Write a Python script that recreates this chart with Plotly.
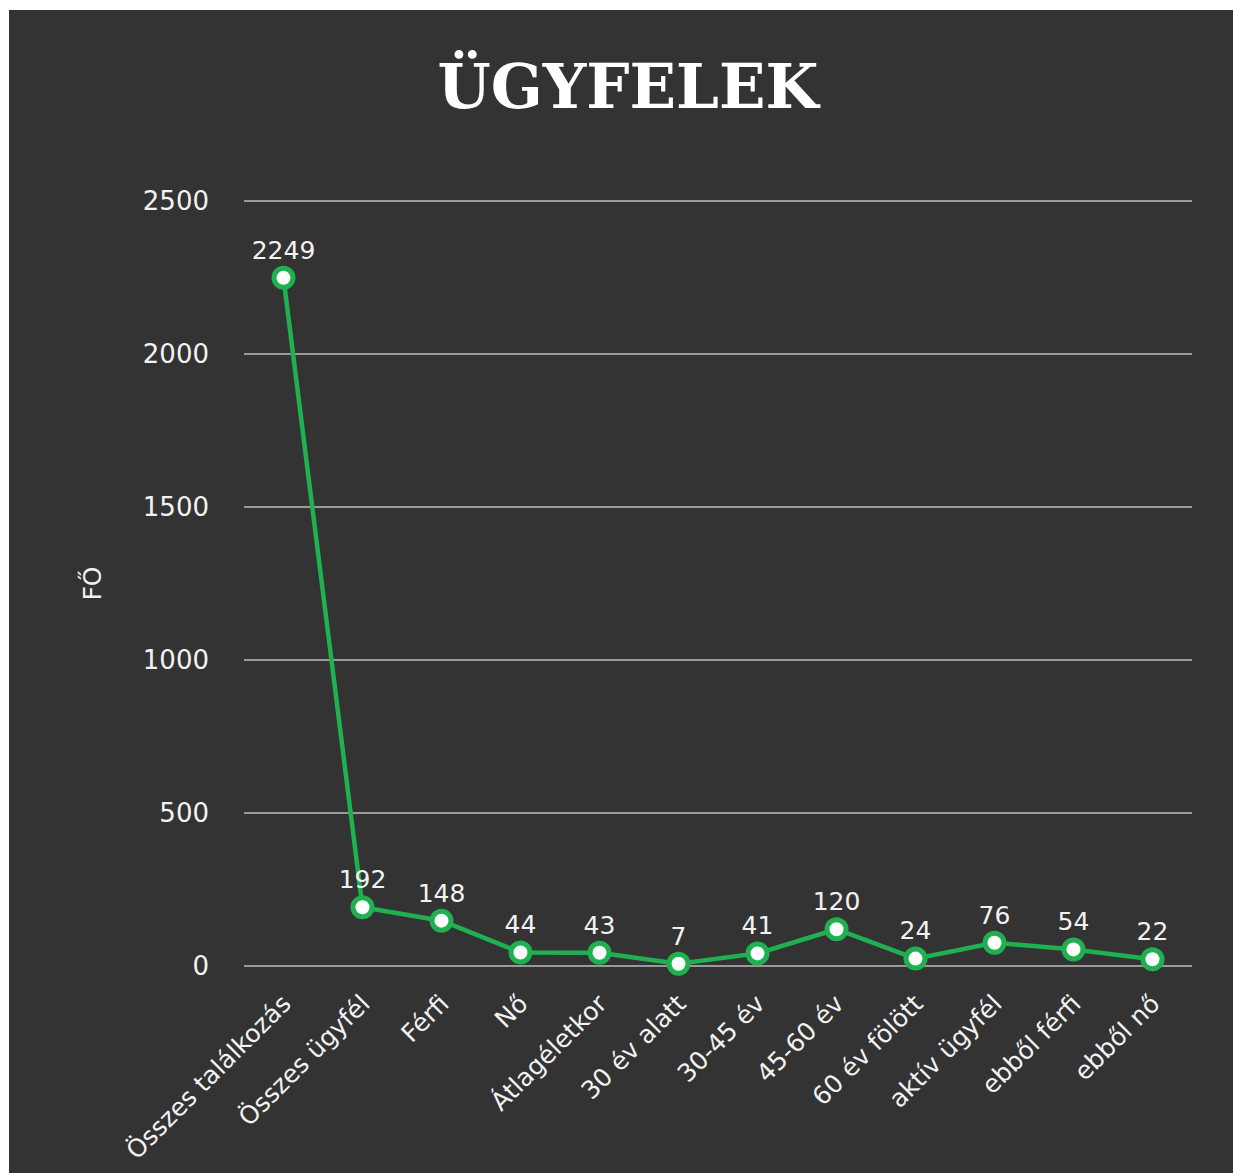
import plotly.graph_objects as go

categories = ["Összes találkozás", "Összes ügyfél", "Férfi", "Nő", "Átlagéletkor",
              "30 év alatt", "30-45 év", "45-60 év", "60 év fölött", "aktív ügyfél",
              "ebből férfi", "ebből nő"]
values = [2249, 192, 148, 44, 43, 7, 41, 120, 24, 76, 54, 22]
y_ticks = [0, 500, 1000, 1500, 2000, 2500]

W, H = 1233, 1173
L, R, T, B = 244, 41, 198, 204
pw, ph = W - L - R, H - T - B

green = "#1fb150"
font_main = "DejaVu Sans"

fig = go.Figure()
fig.add_trace(go.Scatter(
    x=categories, y=values,
    mode="lines+markers+text",
    text=[str(v) for v in values],
    textposition="top center",
    textfont=dict(family=font_main, size=25, color="#f2f2f2"),
    line=dict(color=green, width=4.5),
    marker=dict(size=19, color="white", line=dict(color=green, width=5)),
    cliponaxis=False,
    hoverinfo="x+y",
))

fig.add_shape(type="rect", xref="paper", yref="paper",
              x0=(9 - L) / pw, x1=(W - L) / pw + 0.01,
              y0=-(H - (T + ph)) / ph - 0.01, y1=(T + ph - 10) / ph,
              fillcolor="#333333", line=dict(width=0), layer="below")

fig.update_layout(
    width=W, height=H,
    margin=dict(l=L, r=R, t=T, b=B, autoexpand=False),
    paper_bgcolor="white",
    plot_bgcolor="rgba(0,0,0,0)",
    showlegend=False,
    title=dict(text="ÜGYFELEK", x=628 / W, xanchor="center", y=1 - 87 / H, yanchor="middle",
               xref="container", yref="container",
               font=dict(family="DejaVu Serif", size=61, color="white", weight="bold")),
    xaxis=dict(
        type="category",
        range=[-0.5, len(categories) - 0.5],
        tickangle=-45,
        tickfont=dict(family=font_main, size=25, color="#f2f2f2"),
        showgrid=False, zeroline=False, showline=False,
        ticks="", ticklabelstandoff=14, automargin=False,
    ),
    yaxis=dict(
        range=[-10, 2510],
        tickvals=y_ticks,
        tickfont=dict(family=font_main, size=26, color="#f2f2f2"),
        showgrid=True, gridcolor="#9a9a9a", gridwidth=1.5,
        zeroline=False, showline=False, ticks="",
        ticklabelstandoff=34, automargin=False,
        title=dict(text="FŐ", font=dict(family=font_main, size=25, color="#f2f2f2"), standoff=34),
    ),
)

fig.write_html("out.html", config={"displayModeBar": False},
               post_script="document.body.style.margin='0';")
